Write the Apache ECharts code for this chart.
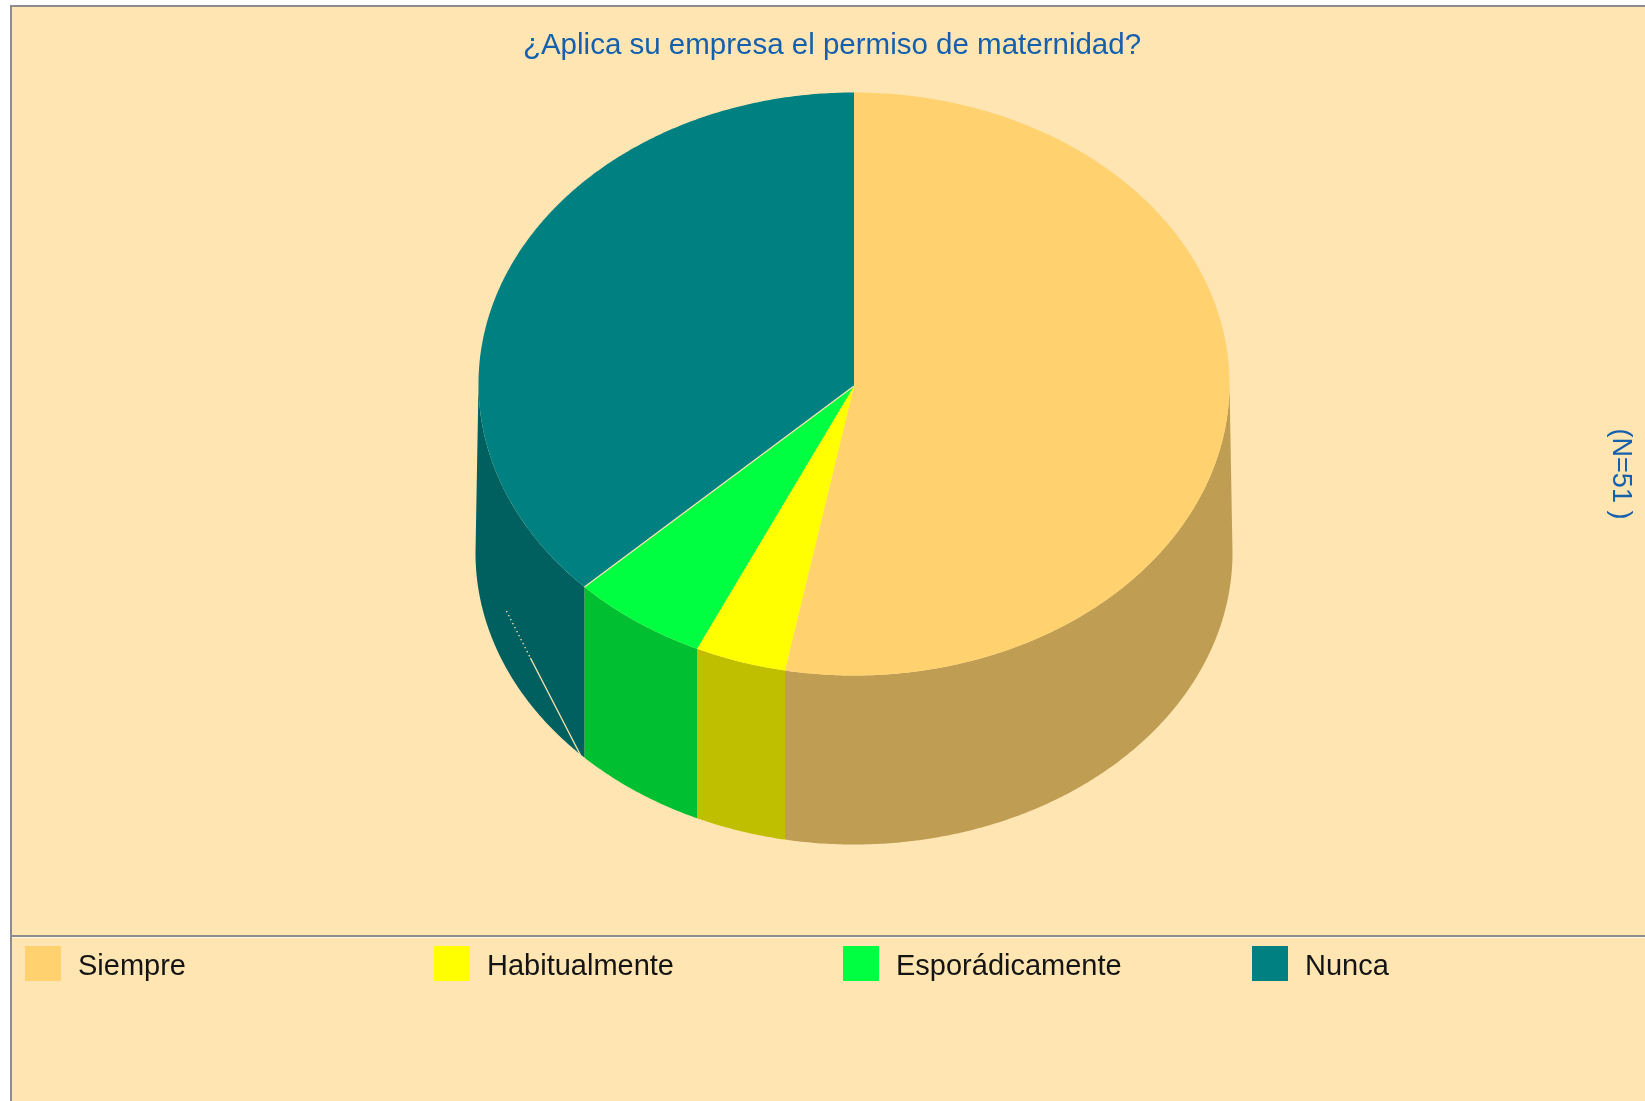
<!DOCTYPE html>
<html>
<head>
<meta charset="utf-8">
<style>html,body{margin:0;padding:0;background:#fff;overflow:hidden}#chart{width:1645px;height:1101px}</style>
<script src="https://cdn.jsdelivr.net/npm/echarts@6/dist/echarts.min.js"></script>
</head>
<body>
<div id="chart"></div>
<script>
var titleText = '¿Aplica su empresa el permiso de maternidad?';
var sampleNote = '(N=51 )';
var categories = ['Siempre', 'Habitualmente', 'Esporádicamente', 'Nunca'];
var values = [27, 2, 3, 19];
var topColors = ['#FFD26F', '#FFFF00', '#00FF40', '#008080'];
var sideColors = ['#BF9E54', '#BFBF00', '#00BF30', '#006060'];
var legendLeft = [25, 434, 843, 1252];

var BG = '#FEE5B1', FONT = '"Liberation Sans", Arial, sans-serif';
var cx = 854, cy = 384, apexY = 386, rx = 375.5, ry = 291.5, depth = 169, flare = 3;
var total = values.reduce(function (a, b) { return a + b; }, 0);

function pt(deg, d, rr) {
  var t = deg * Math.PI / 180, r = rr || rx;
  return [cx + r * Math.sin(t), cy - ry * Math.cos(t) + (d || 0)];
}
function arc(a, b, d, rr) {
  var n = Math.max(2, Math.ceil(Math.abs(b - a) * 2)), out = [];
  for (var i = 0; i <= n; i++) out.push(pt(a + (b - a) * i / n, d, rr));
  return out;
}
// angle on the slightly wider base ellipse that sits directly under a rim angle
function baseAngle(deg) {
  if (deg === 90 || deg === 270) return deg;
  var s = Math.asin(Math.sin(deg * Math.PI / 180) * rx / (rx + flare)) * 180 / Math.PI;
  return 180 - s;
}

function renderSlice(idx) {
  return function (params, api) {
    var before = 0;
    for (var i = 0; i < idx; i++) before += values[i];
    var a0 = before / total * 360;
    var a1 = (before + api.value(0)) / total * 360;
    var children = [];
    var s0 = Math.max(a0, 90), s1 = Math.min(a1, 270);
    if (s1 > s0) {
      var topArc = arc(s0, s1, 0);
      var botArc = arc(baseAngle(s0), baseAngle(s1), depth, rx + flare);
      children.push({
        type: 'polygon', silent: true,
        shape: { points: topArc.concat(botArc.reverse()) },
        style: { fill: sideColors[idx] }
      });
    }
    children.push({
      type: 'polygon', silent: true,
      shape: { points: [[cx, apexY]].concat(arc(a0, a1, 0)) },
      style: { fill: topColors[idx] }
    });
    if (idx === categories.length - 1) {
      // pale seam along the wedge edge and the stray pale line on its side wall
      var e = pt(a0, 0), b = pt(a0, depth + 2);
      children.push({
        type: 'line', silent: true,
        shape: { x1: cx, y1: apexY, x2: e[0], y2: e[1] },
        style: { stroke: BG, lineWidth: 1.2 }
      });
      children.push({
        type: 'line', silent: true,
        shape: { x1: b[0] - 78, y1: b[1] - 147, x2: b[0] - 54, y2: b[1] - 100 },
        style: { stroke: BG, lineWidth: 1.3, lineDash: [1.5, 3] }
      });
      children.push({
        type: 'line', silent: true,
        shape: { x1: b[0] - 54, y1: b[1] - 100, x2: b[0] - 4, y2: b[1] - 3 },
        style: { stroke: BG, lineWidth: 1.3 }
      });
    }
    return { type: 'group', children: children };
  };
}

var series = categories.map(function (name, i) {
  return {
    type: 'custom', name: name, coordinateSystem: 'none',
    renderItem: renderSlice(i), silent: true, animation: false,
    itemStyle: { color: topColors[i] },
    data: [[values[i]]]
  };
});

var legends = categories.map(function (name, i) {
  return {
    data: [{ name: name, icon: 'rect' }],
    left: legendLeft[i], top: 946, padding: 0, orient: 'horizontal',
    itemWidth: 36, itemHeight: 35, selectedMode: false,
    formatter: '{t|{name}}',
    textStyle: {
      color: '#141414', fontFamily: FONT, fontSize: 29,
      rich: { t: { color: '#141414', fontFamily: FONT, fontSize: 29, padding: [6, 0, 0, 12] } }
    }
  };
});

var chart = echarts.init(document.getElementById('chart'), null, { renderer: 'canvas' });
chart.setOption({
  backgroundColor: '#ffffff',
  animation: false,
  title: {
    text: titleText, left: 832, top: 31, padding: 0, textAlign: 'center',
    textStyle: { color: '#1560AE', fontFamily: FONT, fontSize: 29.5, fontWeight: 'normal' }
  },
  legend: legends,
  series: series,
  graphic: [
    { type: 'rect', z: -10, silent: true, shape: { x: 10, y: 5, width: 1700, height: 1200 }, style: { fill: '#8C8C8C' } },
    { type: 'rect', z: -9, silent: true, shape: { x: 12, y: 7, width: 1700, height: 1200 }, style: { fill: BG } },
    { type: 'rect', z: -8, silent: true, shape: { x: 12, y: 935, width: 1700, height: 2 }, style: { fill: '#8C8C8C' } },
    { type: 'rect', z: -8, silent: true, shape: { x: 12, y: 937, width: 1700, height: 1 }, style: { fill: '#FFF6E4' } },
    {
      type: 'text', silent: true, x: 1620, y: 474, rotation: -Math.PI / 2,
      style: { text: sampleNote, fill: '#1560AE', font: '27px ' + FONT, textAlign: 'center', textVerticalAlign: 'middle' }
    }
  ]
});
</script>
</body>
</html>
